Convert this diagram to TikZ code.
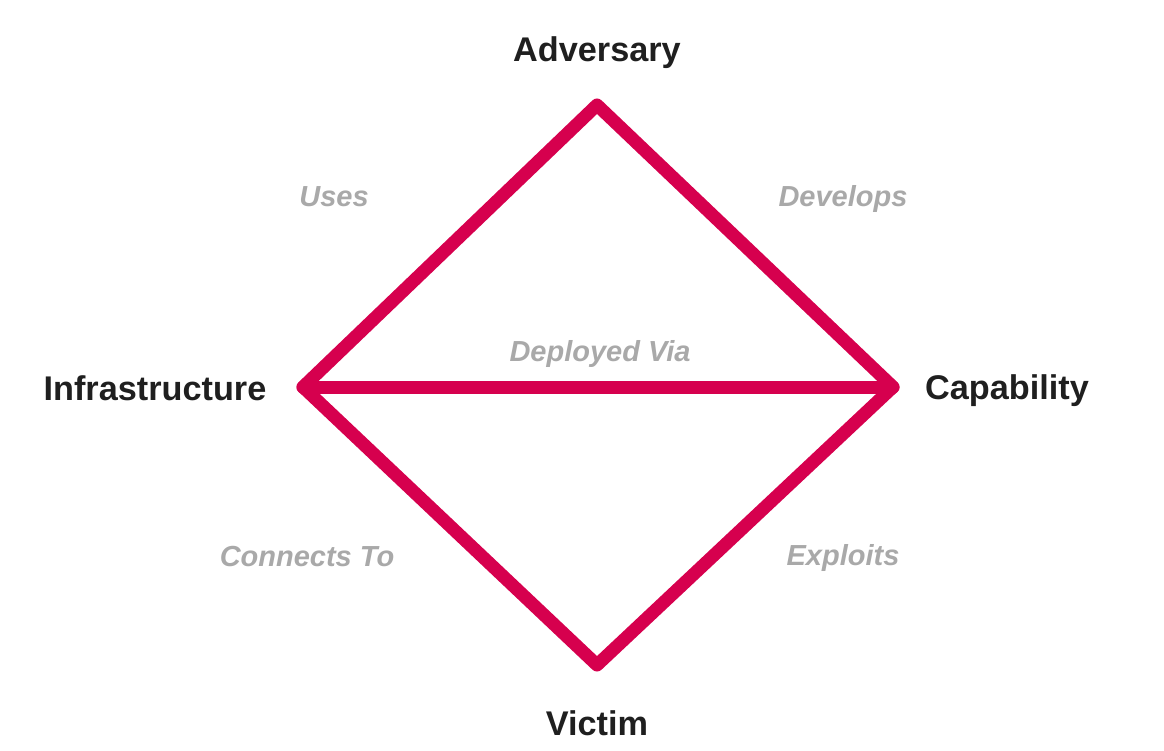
\documentclass[tikz,border=0pt]{standalone}
\usepackage{fontspec}
\setmainfont{Liberation Sans}
\usetikzlibrary{positioning}

\definecolor{diamondred}{HTML}{D6004E}
\definecolor{labelgray}{HTML}{A9A9A9}

\begin{document}
\begin{tikzpicture}[x=0.02cm, y=-0.02cm,
    vertex/.style={font=\fontsize{19.5}{22}\selectfont\bfseries, text=black!88},
    relation/.style={font=\fontsize{16.5}{20}\selectfont\bfseries\itshape, text=labelgray},
    side/.style={draw=diamondred, line width=13*0.02cm, line join=round, line cap=round}]

    \useasboundingbox (0,0) rectangle (1164,751);

    % corners of the diamond
    \coordinate (adv) at (597,105);
    \coordinate (inf) at (303,387);
    \coordinate (cap) at (893,387);
    \coordinate (vic) at (597,665);

    \node[vertex] (advL) at (597,53) {Adversary};
    \node[vertex] (infL) at (155,388) {Infrastructure};
    \node[vertex] (capL) at (1007,391) {Capability};
    \node[vertex] (vicL) at (597,723) {Victim};

    \node[relation] (uses) at (334,197) {Uses};
    \node[relation] (develops) at (843,199) {Develops};
    \node[relation] (deployed) at (600,354) {Deployed Via};
    \node[relation] (connects) at (307,557) {Connects To};
    \node[relation] (exploits) at (843,558) {Exploits};

    \draw[side] (adv) -- (cap) -- (vic) -- (inf) -- cycle;
    \draw[side] (inf) -- (cap);

\end{tikzpicture}
\end{document}
